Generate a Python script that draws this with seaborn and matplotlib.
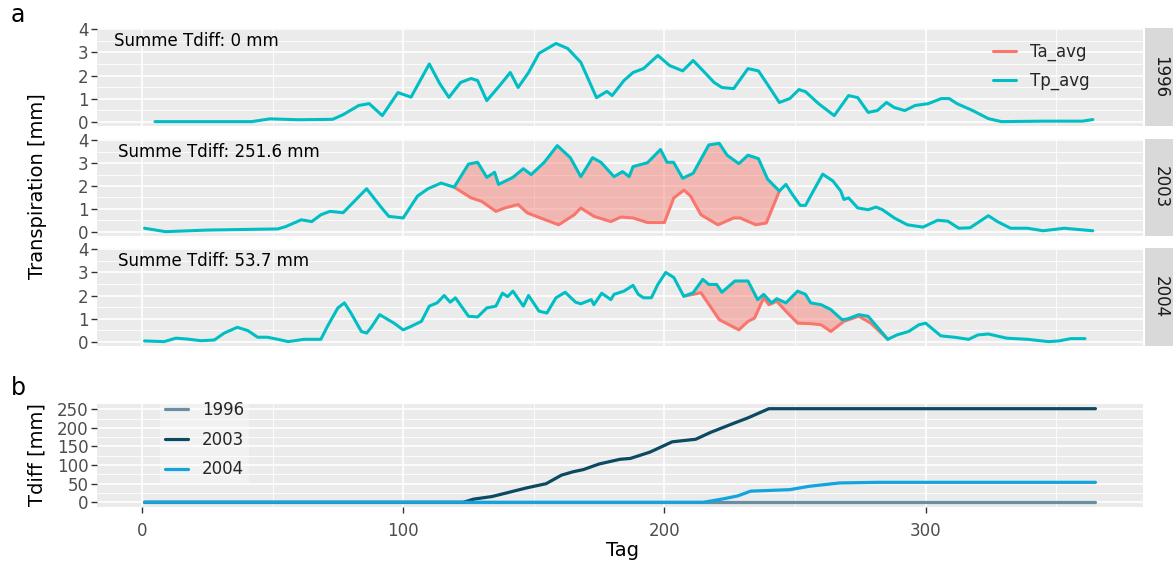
import numpy as np
import seaborn as sns
import matplotlib.pyplot as plt
from matplotlib.lines import Line2D

# ---------------- data ----------------
years = ["1996", "2003", "2004"]
tdiff_sum = ["0", "251.6", "53.7"]

# Tp_avg, 1996
tp96_day = [5, 42, 49, 60, 73, 77, 83, 87, 92, 98, 103, 110, 114, 117.5, 122, 126, 128.5,
            132, 137, 141, 144, 148, 152, 158.5, 163, 168, 174, 178, 180, 184.5, 188, 192,
            197.5, 202, 207, 211, 214, 219, 222, 226.5, 232, 236, 241, 244, 248, 251.5, 254,
            259, 265, 270.5, 274, 278, 281.5, 285, 288, 292, 296, 301, 306, 309, 312, 318,
            324, 329, 345, 360, 364]
tp96 = [0, 0, 0.12, 0.08, 0.1, 0.3, 0.7, 0.78, 0.26, 1.26, 1.06, 2.5, 1.65, 1.05, 1.7, 1.87,
        1.78, 0.91, 1.57, 2.13, 1.48, 2.13, 2.96, 3.39, 3.17, 2.57, 1.04, 1.31, 1.13, 1.78,
        2.13, 2.3, 2.87, 2.43, 2.2, 2.65, 2.3, 1.7, 1.48, 1.43, 2.3, 2.2, 1.35, 0.83, 1.0,
        1.39, 1.3, 0.78, 0.26, 1.13, 1.04, 0.4, 0.48, 0.83, 0.61, 0.48, 0.7, 0.78, 1.0, 1.0,
        0.78, 0.48, 0.13, 0.0, 0.02, 0.02, 0.09]

# Tp_avg, 2003
tp03_day = [1, 9, 25, 52, 55, 61, 65, 68.5, 72, 77, 86, 91.5, 94.5, 100, 105.5, 109.5, 114.5,
            119.5, 125, 128.5, 132, 135, 136.5, 142, 146, 149, 154, 159, 164, 168, 172.5,
            175.7, 180.7, 184, 186.5, 188, 193.5, 198.5, 201, 203.5, 207, 211, 217, 221, 224,
            228.5, 232, 236, 239.5, 244, 246.5, 249, 252, 254, 257, 260.6, 264.5, 267.5,
            268.7, 270.5, 274, 278, 281, 283.5, 288, 293, 299, 304.6, 308.5, 312.7, 317, 324,
            327.5, 332.5, 339, 345, 353, 364]
tp03 = [0.15, 0.0, 0.07, 0.12, 0.22, 0.52, 0.44, 0.74, 0.89, 0.83, 1.88, 1.08, 0.67, 0.6,
        1.56, 1.88, 2.13, 1.95, 2.96, 3.04, 2.38, 2.6, 2.07, 2.38, 2.76, 2.5, 3.04, 3.77, 3.24,
        2.41, 3.24, 3.04, 2.41, 2.63, 2.41, 2.85, 3.02, 3.6, 3.04, 3.04, 2.34, 2.56, 3.8, 3.87,
        3.35, 2.98, 3.35, 3.2, 2.3, 1.78, 2.07, 1.63, 1.15, 1.15, 1.78, 2.52, 2.22, 1.78, 1.41,
        1.48, 1.04, 0.96, 1.08, 0.96, 0.6, 0.3, 0.2, 0.5, 0.46, 0.15, 0.17, 0.7, 0.44, 0.15,
        0.15, 0.04, 0.15, 0.04]

# Ta_avg, 2003 (only where it departs from Tp)
ta03_day = [119.5, 126, 130, 135.5, 139, 144, 147.5, 159.5, 165.5, 168, 173, 179.5, 183.3,
            188, 193.5, 200, 203.6, 207.5, 210, 214, 220.5, 226.5, 229, 235, 239, 244]
ta03 = [1.95, 1.48, 1.33, 0.89, 1.04, 1.19, 0.82, 0.3, 0.74, 1.04, 0.67, 0.44, 0.64, 0.6,
        0.4, 0.4, 1.48, 1.82, 1.56, 0.74, 0.3, 0.6, 0.6, 0.3, 0.38, 1.78]

# Tp_avg, 2004
tp04_day = [1, 8.5, 13, 17.5, 22.5, 27.7, 31.5, 36.5, 40.5, 44.3, 48, 52, 56, 62, 68.5, 71, 75,
            77.5, 80, 84, 86, 87.6, 91, 96.5, 100, 103, 107, 110, 113, 115.7, 118, 120, 125,
            128.5, 132, 135.5, 138, 140, 142, 146, 148, 152, 155, 158.5, 162, 166, 168, 172,
            173, 176, 179.5, 180.7, 184.5, 188, 190, 192, 195, 197.5, 200.5, 203.6, 207.4, 211,
            214.7, 217, 220, 222, 227, 232, 235.7, 238, 241, 243, 246.5, 251, 254, 256, 260,
            263.7, 268, 270, 274.4, 278, 285.5, 289, 293.5, 297.4, 300, 305.8, 311, 316.5, 320,
            324, 331, 339, 347, 351, 355.5, 361]
tp04 = [0.03, 0.0, 0.15, 0.11, 0.04, 0.07, 0.37, 0.62, 0.48, 0.19, 0.19, 0.1, 0.0, 0.1, 0.1,
        0.66, 1.46, 1.68, 1.24, 0.44, 0.37, 0.59, 1.17, 0.8, 0.51, 0.66, 0.88, 1.54, 1.68, 2.0,
        1.71, 1.9, 1.1, 1.07, 1.46, 1.54, 2.1, 1.95, 2.19, 1.54, 2.0, 1.32, 1.24, 1.9, 2.14,
        1.71, 1.64, 1.82, 1.6, 2.1, 1.82, 2.05, 2.19, 2.44, 2.05, 1.9, 1.9, 2.48, 3.0, 2.78,
        1.97, 2.12, 2.7, 2.48, 2.48, 2.14, 2.63, 2.63, 1.82, 2.05, 1.68, 1.86, 1.68, 2.19, 2.05,
        1.68, 1.6, 1.39, 0.95, 0.98, 1.17, 1.1, 0.1, 0.29, 0.44, 0.73, 0.8, 0.25, 0.19, 0.1,
        0.29, 0.33, 0.15, 0.1, 0.0, 0.03, 0.13, 0.13]

# Ta_avg, 2004 (only where it departs from Tp)
ta04_day = [207.4, 211, 214, 221, 228.5, 232, 234.5, 238, 240, 243, 246.5, 251, 256, 260,
            263.7, 268.7, 274.4, 279, 285.5]
ta04 = [1.97, 2.05, 2.12, 0.95, 0.51, 0.88, 1.02, 1.9, 1.6, 1.75, 1.32, 0.8, 0.78, 0.73, 0.44,
        0.88, 1.1, 0.8, 0.1]

# cumulative Tdiff
cum96_day = [1, 365]
cum96 = [0, 0]
cum03_day = [1, 123, 127, 134, 140, 147.4, 154.7, 160.6, 165, 169, 175, 183, 187, 194.5, 203,
             212, 217.7, 226.4, 232, 240, 365]
cum03 = [0, 0, 8.6, 15.5, 26, 39, 50, 73, 82, 88, 103, 115.6, 118, 135, 162.6, 169.5, 188,
         212, 227, 251.6, 251.6]
cum04_day = [1, 214.8, 222, 228, 233, 248, 255.4, 267, 281.6, 365]
cum04 = [0, 0, 8.6, 17, 30, 34, 43, 52, 53.7, 53.7]

TA_COL = "#F8766D"
TP_COL = "#00BFC4"
YEAR_COL = {"1996": "#6a8fa0", "2003": "#0c4a62", "2004": "#13a3dd"}

# ---------------- figure ----------------
sns.set_theme(style="darkgrid")
plt.rcParams['font.family'] = ['DejaVu Sans']

FS = 12      # tick labels, annotations, legends, strips
FT = 14      # axis titles

W, H = 1173, 565
fig = plt.figure(figsize=(W / 100, H / 100), dpi=100)


def box(l, t, r, b):
    return [l / W, 1 - b / H, (r - l) / W, (b - t) / H]


def gg(ax):
    ax.set_facecolor("#ebebeb")
    ax.set_axisbelow(True)
    ax.grid(which="major", color="white", lw=1.2)
    ax.grid(which="minor", color="white", lw=0.6)
    for s in ax.spines.values():
        s.set_visible(False)
    ax.tick_params(axis="y", which="major", left=True, length=4, width=1, color="#333333",
                   labelsize=FS, labelcolor="#4d4d4d", pad=2)
    ax.tick_params(which="minor", length=0, left=False, bottom=False)
    ax.set_xlim(-17.2, 383.2)
    ax.set_xticks([0, 100, 200, 300])
    ax.set_xticks([50, 150, 250, 350], minor=True)
    ax.set_xlabel("")
    ax.set_ylabel("")


panels = [(28, 126), (139, 236), (248, 346)]
tp_all = [(tp96_day, tp96), (tp03_day, tp03), (tp04_day, tp04)]
ta_all = [None, (ta03_day, ta03), (ta04_day, ta04)]
text_x = [-10.7, -9.2, -9.2]

for i, (top, bot) in enumerate(panels):
    ax = fig.add_axes(box(97, top, 1143, bot))
    td, tv = tp_all[i]
    if ta_all[i] is not None:
        ad, av = ta_all[i]
        tdn, tvn = np.array(td), np.array(tv)
        m = (tdn >= ad[0]) & (tdn <= ad[-1])
        ax.fill(np.concatenate([tdn[m], ad[::-1]]), np.concatenate([tvn[m], av[::-1]]),
                color=TA_COL, alpha=0.45, lw=0, zorder=1.5)
        sns.lineplot(x=ad, y=av, ax=ax, color=TA_COL, lw=2.2, zorder=2)
    sns.lineplot(x=td, y=tv, ax=ax, color=TP_COL, lw=2.2, zorder=3)
    gg(ax)
    ax.set_ylim(-0.19, 4.06)
    ax.set_yticks([0, 1, 2, 3, 4])
    ax.set_yticks([0.5, 1.5, 2.5, 3.5], minor=True)
    ax.tick_params(axis="x", bottom=False, labelbottom=False)
    ax.text(text_x[i], 3.48, "Summe Tdiff: " + tdiff_sum[i] + " mm", ha="left", va="center",
            fontsize=FS, color="black")
    if i == 0:
        handles = [Line2D([], [], color=TA_COL, lw=2.2), Line2D([], [], color=TP_COL, lw=2.2)]
        ax.legend(handles, ["Ta_avg", "Tp_avg"], loc="upper left",
                  bbox_to_anchor=((993 - 97) / 1046, 1 - (43 - top) / (bot - top)),
                  frameon=False, fontsize=FS, handlelength=1.35, handletextpad=0.85,
                  labelspacing=0.65, borderpad=0, borderaxespad=0)
    # facet strip
    sx = fig.add_axes(box(1145, top, 1173, bot))
    sx.set_facecolor("#d9d9d9")
    sx.set_xticks([])
    sx.set_yticks([])
    sx.grid(False)
    for s in sx.spines.values():
        s.set_visible(False)
    sx.text(0.55, 0.5, years[i], rotation=270, ha="center", va="center", fontsize=FS,
            color="#1a1a1a", transform=sx.transAxes)

# bottom panel: cumulative Tdiff
axb = fig.add_axes(box(97, 404, 1143, 507))
cum_all = {"1996": (cum96_day, cum96), "2003": (cum03_day, cum03), "2004": (cum04_day, cum04)}
for y in years:
    d, v = cum_all[y]
    sns.lineplot(x=d, y=v, ax=axb, color=YEAR_COL[y], lw=2.3)
gg(axb)
axb.set_ylim(-12.6, 264.2)
axb.set_yticks([0, 50, 100, 150, 200, 250])
axb.set_yticks([25, 75, 125, 175, 225], minor=True)
axb.tick_params(axis="x", which="major", bottom=True, length=4, width=1, color="#333333",
                labelsize=FS, labelcolor="#4d4d4d", pad=7)
handles = [Line2D([], [], color=YEAR_COL[y], lw=2.3) for y in years]
axb.legend(handles, years, loc="upper left",
           bbox_to_anchor=((160 - 97) / 1046, 1 + (404 - 396) / 103),
           frameon=True, facecolor="white", framealpha=0.35, edgecolor="none",
           fontsize=FS, handlelength=1.35, handletextpad=0.85, labelspacing=0.7,
           borderpad=0.3, borderaxespad=0, fancybox=False)

# axis titles and panel letters
fig.text(38 / W, 1 - 186 / H, "Transpiration [mm]", rotation=90, ha="center", va="center",
         fontsize=FT, color="black")
fig.text(37 / W, 1 - 455 / H, "Tdiff [mm]", rotation=90, ha="center", va="center",
         fontsize=FT, color="black")
fig.text(622 / W, 1 - 550 / H, "Tag", ha="center", va="center", fontsize=FT, color="black")
fig.text(18 / W, 1 - 15 / H, "a", ha="center", va="center", fontsize=17, color="black")
fig.text(18 / W, 1 - 388 / H, "b", ha="center", va="center", fontsize=17, color="black")

plt.savefig("out.png", dpi=100)
